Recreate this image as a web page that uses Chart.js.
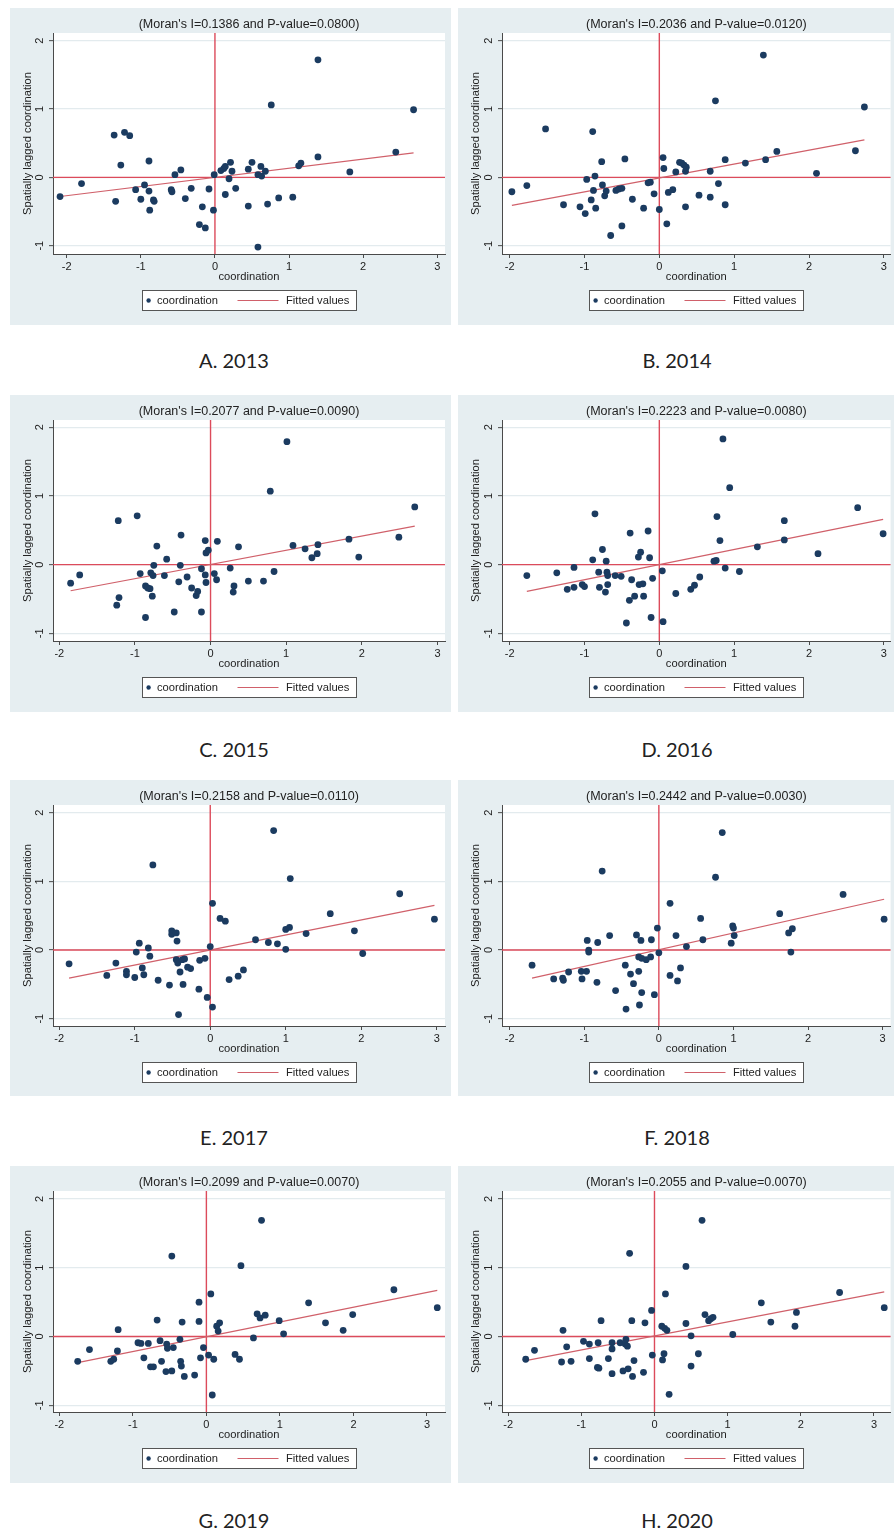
<!DOCTYPE html>
<html>
<head>
<meta charset="utf-8">
<script src="https://cdn.jsdelivr.net/npm/chart.js@4"></script>
<style>
  html, body { margin: 0; padding: 0; background: #ffffff; }
  body { position: relative; width: 894px; height: 1530px; overflow: hidden; }
  canvas.panel { position: absolute; background: #e6eef1; }
  .caption { position: absolute; width: 200px; height: 26px; line-height: 26px; text-align: center;
             font-family: Lato, "Open Sans", sans-serif; font-size: 20px; color: #222; }
</style>
</head>
<body>
<script>
// Moran scatterplots of provincial coordination, 2013-2020
const years = ['2013', '2014', '2015', '2016', '2017', '2018', '2019', '2020'];
const letters = ['A', 'B', 'C', 'D', 'E', 'F', 'G', 'H'];
const moranI = ['0.1386', '0.2036', '0.2077', '0.2223', '0.2158', '0.2442', '0.2099', '0.2055'];
const pValues = ['0.0800', '0.0120', '0.0090', '0.0080', '0.0110', '0.0030', '0.0070', '0.0070'];

const xTicks = [-2, -1, 0, 1, 2, 3];
const yTicks = [-1, 0, 1, 2];

// coordination (x) and spatially lagged coordination (y)
const coord2013 = [-2.09,-1.80,-1.36,-1.22,-1.15,-1.27,-1.34,-1.07,-0.95,-1.00,-0.89,-0.89,-0.88,-0.83,-0.82,-0.59,-0.58,-0.54,-0.46,-0.40,-0.32,-0.21,-0.13,-0.17,-0.08,-0.02,-0.01,0.08,0.12,0.14,0.21,0.19,0.23,0.14,0.28,0.45,0.50,0.45,0.58,0.62,0.63,0.68,0.58,0.71,0.76,0.86,1.05,1.13,1.16,1.39,1.39,1.82,2.44,2.68];
const lag2013   = [-0.28,-0.09,0.62,0.66,0.61,0.18,-0.35,-0.18,-0.11,-0.32,0.24,-0.20,-0.48,-0.33,-0.35,-0.18,-0.21,0.04,0.11,-0.31,-0.16,-0.69,-0.74,-0.43,-0.17,-0.48,0.04,0.10,0.13,0.16,0.22,-0.02,0.09,-0.25,-0.16,0.12,0.22,-0.42,0.04,0.16,0.02,0.09,-1.02,-0.39,1.06,-0.30,-0.29,0.17,0.21,1.72,0.30,0.08,0.37,0.99];

const coord2014 = [-1.97,-1.77,-1.52,-1.28,-1.06,-0.99,-0.97,-0.89,-0.86,-0.91,-0.88,-0.85,-0.77,-0.76,-0.73,-0.71,-0.65,-0.58,-0.54,-0.50,-0.50,-0.46,-0.36,-0.21,-0.15,-0.12,-0.07,0.00,0.05,0.06,0.10,0.12,0.18,0.22,0.27,0.30,0.33,0.35,0.36,0.35,0.53,0.68,0.68,0.75,0.79,0.88,0.88,1.15,1.39,1.42,1.57,2.10,2.62,2.74];
const lag2014   = [-0.21,-0.12,0.71,-0.40,-0.43,-0.53,-0.03,0.67,0.02,-0.33,-0.19,-0.45,0.23,-0.11,-0.27,-0.20,-0.85,-0.19,-0.17,-0.16,-0.71,0.27,-0.32,-0.45,-0.08,-0.07,-0.24,-0.47,0.29,0.13,-0.68,-0.22,-0.18,0.08,0.22,0.21,0.18,0.09,0.15,-0.43,-0.26,0.09,-0.29,1.12,-0.09,0.26,-0.40,0.21,1.79,0.26,0.38,0.06,0.39,1.03];

const coord2015 = [-1.85,-1.73,-1.24,-1.21,-1.22,-0.97,-0.93,-0.86,-0.86,-0.83,-0.80,-0.79,-0.77,-0.76,-0.75,-0.71,-0.61,-0.58,-0.48,-0.42,-0.40,-0.39,-0.31,-0.25,-0.19,-0.17,-0.12,-0.12,-0.07,-0.06,-0.07,-0.06,-0.03,0.05,0.08,0.09,0.26,0.31,0.30,0.37,0.50,0.70,0.79,0.84,1.01,1.09,1.25,1.34,1.42,1.41,1.83,1.96,2.49,2.70];
const lag2015   = [-0.27,-0.15,-0.59,-0.48,0.64,0.71,-0.13,-0.77,-0.31,-0.34,-0.35,-0.12,-0.46,-0.16,-0.01,0.27,-0.16,0.08,-0.69,-0.25,-0.01,0.43,-0.18,-0.34,-0.45,-0.39,-0.69,-0.06,-0.15,-0.26,0.35,0.17,0.21,-0.13,-0.22,0.34,-0.05,-0.31,-0.40,0.26,-0.24,-0.24,1.07,-0.10,1.79,0.28,0.23,0.10,0.29,0.16,0.37,0.11,0.40,0.84];

const coord2016 = [-1.77,-1.37,-1.23,-1.14,-1.14,-1.03,-1.00,-0.89,-0.86,-0.81,-0.80,-0.76,-0.72,-0.71,-0.70,-0.69,-0.69,-0.59,-0.51,-0.44,-0.39,-0.40,-0.37,-0.33,-0.28,-0.25,-0.27,-0.22,-0.21,-0.15,-0.13,-0.11,-0.09,0.04,0.05,0.22,0.42,0.47,0.54,0.73,0.76,0.77,0.81,0.85,0.88,0.94,1.07,1.31,1.67,1.67,2.12,2.65,2.99];
const lag2016   = [-0.16,-0.12,-0.36,-0.04,-0.33,-0.29,-0.32,0.07,0.74,-0.11,-0.33,0.22,-0.40,0.05,-0.11,-0.16,-0.29,-0.16,-0.17,-0.85,0.46,-0.52,-0.22,-0.46,0.11,0.18,-0.29,-0.28,-0.46,0.49,0.10,-0.77,-0.20,-0.09,-0.83,-0.42,-0.36,-0.30,-0.18,0.05,0.06,0.70,0.35,1.83,-0.05,1.12,-0.10,0.26,0.64,0.36,0.16,0.83,0.45];

const coord2017 = [-1.87,-1.37,-1.25,-1.11,-1.11,-1.00,-0.98,-0.94,-0.90,-0.88,-0.82,-0.80,-0.76,-0.69,-0.54,-0.51,-0.51,-0.45,-0.44,-0.45,-0.43,-0.42,-0.40,-0.37,-0.36,-0.34,-0.30,-0.26,-0.15,-0.14,-0.07,-0.04,0.00,0.03,0.03,0.13,0.20,0.25,0.37,0.44,0.60,0.77,0.84,0.89,1.00,1.00,1.05,1.06,1.27,1.59,1.91,2.02,2.51,2.97];
const lag2017   = [-0.20,-0.37,-0.19,-0.31,-0.36,-0.40,-0.03,0.10,-0.26,-0.36,0.03,-0.09,1.24,-0.44,-0.51,0.28,0.23,0.25,0.13,-0.14,-0.19,-0.94,-0.32,-0.14,-0.50,-0.13,-0.25,-0.27,-0.57,-0.15,-0.12,-0.69,0.05,-0.83,0.68,0.46,0.42,-0.43,-0.38,-0.29,0.15,0.11,1.74,0.09,0.01,0.30,0.33,1.04,0.24,0.53,0.28,-0.05,0.82,0.45];

const coord2018 = [-1.70,-1.41,-1.29,-1.28,-1.21,-1.04,-1.03,-0.97,-0.96,-0.94,-0.94,-0.83,-0.82,-0.76,-0.66,-0.58,-0.45,-0.44,-0.38,-0.34,-0.30,-0.27,-0.27,-0.24,-0.26,-0.23,-0.23,-0.17,-0.11,-0.10,-0.06,-0.02,0.00,0.15,0.15,0.23,0.25,0.29,0.37,0.56,0.59,0.76,0.85,0.97,0.99,1.00,1.01,1.62,1.74,1.79,1.77,2.47,3.02];
const lag2018   = [-0.22,-0.42,-0.41,-0.44,-0.32,-0.31,-0.42,-0.31,0.14,0.00,-0.03,-0.47,0.11,1.15,0.21,-0.59,-0.22,-0.86,-0.35,-0.49,0.22,-0.10,-0.31,0.14,-0.80,-0.12,-0.62,-0.14,-0.10,0.15,-0.65,0.32,-0.04,0.68,-0.37,0.21,-0.45,-0.26,0.05,0.46,0.15,1.06,1.71,0.10,0.35,0.32,0.21,0.53,0.25,0.31,-0.03,0.81,0.45];

const coord2019 = [-1.75,-1.59,-1.30,-1.26,-1.21,-1.20,-0.93,-0.89,-0.85,-0.79,-0.76,-0.72,-0.67,-0.63,-0.61,-0.55,-0.54,-0.53,-0.47,-0.47,-0.45,-0.36,-0.35,-0.34,-0.33,-0.30,-0.16,-0.10,-0.10,-0.08,-0.04,0.03,0.06,0.08,0.10,0.14,0.16,0.18,0.39,0.45,0.47,0.64,0.69,0.73,0.75,0.80,0.99,1.05,1.39,1.62,1.86,1.99,2.55,3.14];
const lag2019   = [-0.36,-0.19,-0.36,-0.33,-0.21,0.10,-0.09,-0.10,-0.31,-0.10,-0.44,-0.44,0.24,-0.06,-0.36,-0.51,-0.11,-0.17,1.17,-0.50,-0.16,-0.04,-0.36,-0.43,0.21,-0.58,-0.56,0.22,0.50,-0.31,-0.16,-0.27,0.62,-0.85,-0.33,0.15,0.08,0.20,-0.26,-0.33,1.03,-0.02,0.33,0.27,1.69,0.31,0.23,0.04,0.49,0.20,0.09,0.32,0.68,0.42];

const coord2020 = [-1.76,-1.64,-1.27,-1.25,-1.20,-1.14,-0.97,-0.89,-0.89,-0.78,-0.76,-0.77,-0.73,-0.63,-0.58,-0.58,-0.58,-0.47,-0.43,-0.40,-0.39,-0.37,-0.36,-0.34,-0.31,-0.30,-0.28,-0.15,-0.13,-0.04,-0.03,0.10,0.13,0.11,0.14,0.15,0.17,0.20,0.43,0.43,0.50,0.50,0.60,0.65,0.69,0.74,0.77,0.80,1.07,1.46,1.59,1.92,1.94,2.53,3.14];
const lag2020   = [-0.33,-0.20,-0.37,0.09,-0.15,-0.36,-0.07,-0.11,-0.32,-0.45,-0.46,-0.09,0.23,-0.32,-0.09,-0.18,-0.54,-0.09,-0.50,-0.11,-0.04,-0.14,-0.47,1.21,0.23,-0.58,-0.35,-0.52,0.20,0.38,-0.27,0.15,-0.25,-0.34,0.12,0.62,0.09,-0.84,1.02,0.19,0.01,-0.43,-0.25,1.69,0.32,0.23,0.26,0.28,0.03,0.49,0.21,0.15,0.35,0.64,0.42];

// fitted regression line end points (x, y)
const fitX2013 = [-2.09, 2.68]; const fitY2013 = [-0.28, 0.36];
const fitX2014 = [-1.97, 2.74]; const fitY2014 = [-0.41, 0.55];
const fitX2015 = [-1.85, 2.70]; const fitY2015 = [-0.38, 0.56];
const fitX2016 = [-1.77, 2.99]; const fitY2016 = [-0.39, 0.66];
const fitX2017 = [-1.87, 2.97]; const fitY2017 = [-0.41, 0.65];
const fitX2018 = [-1.70, 3.02]; const fitY2018 = [-0.41, 0.74];
const fitX2019 = [-1.75, 3.14]; const fitY2019 = [-0.38, 0.67];
const fitX2020 = [-1.76, 3.14]; const fitY2020 = [-0.35, 0.65];

const coordSeries = [coord2013, coord2014, coord2015, coord2016, coord2017, coord2018, coord2019, coord2020];
const lagSeries   = [lag2013, lag2014, lag2015, lag2016, lag2017, lag2018, lag2019, lag2020];
const fitXSeries  = [fitX2013, fitX2014, fitX2015, fitX2016, fitX2017, fitX2018, fitX2019, fitX2020];
const fitYSeries  = [fitY2013, fitY2014, fitY2015, fitY2016, fitY2017, fitY2018, fitY2019, fitY2020];

// page layout of the eight panels
const layout = [
  { left: 10,  top: 8,    width: 441, height: 317, xMin: -2.185, xMax: 3.104, yMin: -1.121, yMax: 2.113, capX: 234, capY: 360 },
  { left: 458, top: 8,    width: 436, height: 317, xMin: -2.102, xMax: 3.090, yMin: -1.121, yMax: 2.113, capX: 677, capY: 360 },
  { left: 10,  top: 395,  width: 441, height: 317, xMin: -2.083, xMax: 3.100, yMin: -1.112, yMax: 2.106, capX: 234, capY: 749 },
  { left: 458, top: 395,  width: 436, height: 317, xMin: -2.102, xMax: 3.090, yMin: -1.112, yMax: 2.106, capX: 677, capY: 749 },
  { left: 10,  top: 780,  width: 441, height: 316, xMin: -2.083, xMax: 3.110, yMin: -1.106, yMax: 2.112, capX: 234, capY: 1137 },
  { left: 458, top: 780,  width: 436, height: 316, xMin: -2.103, xMax: 3.107, yMin: -1.106, yMax: 2.112, capX: 677, capY: 1137 },
  { left: 10,  top: 1166, width: 441, height: 317, xMin: -2.086, xMax: 3.245, yMin: -1.097, yMax: 2.116, capX: 234, capY: 1520 },
  { left: 458, top: 1166, width: 436, height: 317, xMin: -2.084, xMax: 3.227, yMin: -1.097, yMax: 2.116, capX: 677, capY: 1520 }
];

const FONT = '"Liberation Sans", Arial, sans-serif';
const DOT = '#1b3b60';
const RED = '#dc4b5b';
const FIT = '#d0606a';
const AXIS = '#4a4a4a';
const TEXT = '#222222';

Chart.defaults.font.family = FONT;
Chart.defaults.color = TEXT;

// white plot region
const plotRegion = {
  id: 'plotRegion',
  beforeDraw(chart) {
    const { ctx, chartArea: a } = chart;
    ctx.save();
    ctx.fillStyle = '#ffffff';
    ctx.fillRect(a.left, a.top, a.right - a.left, a.bottom - a.top);
    ctx.restore();
  }
};

// red reference lines through x = 0 and y = 0
const zeroLines = {
  id: 'zeroLines',
  beforeDatasetsDraw(chart) {
    const { ctx, chartArea: a, scales } = chart;
    const px = scales.x.getPixelForValue(0);
    const py = scales.y.getPixelForValue(0);
    ctx.save();
    ctx.strokeStyle = RED;
    ctx.lineWidth = 1.4;
    ctx.beginPath();
    ctx.moveTo(px, a.top); ctx.lineTo(px, a.bottom);
    ctx.moveTo(a.left, py); ctx.lineTo(a.right, py);
    ctx.stroke();
    ctx.restore();
  }
};

// boxed legend below the x-axis title
const boxLegend = {
  id: 'boxLegend',
  afterDraw(chart) {
    const { ctx, chartArea: a } = chart;
    const ds = chart.data.datasets;
    const w = 215, h = 21;
    const x0 = Math.round((a.left + a.right) / 2 - w / 2);
    const y0 = Math.round(a.bottom + 36);
    const my = y0 + h / 2;
    ctx.save();
    ctx.fillStyle = '#ffffff';
    ctx.fillRect(x0, y0, w, h);
    ctx.strokeStyle = '#555555';
    ctx.lineWidth = 1;
    ctx.strokeRect(x0 + 0.5, y0 + 0.5, w - 1, h - 1);
    ctx.fillStyle = ds[0].backgroundColor;
    ctx.beginPath();
    ctx.arc(x0 + 6.6, my, 2.2, 0, Math.PI * 2);
    ctx.fill();
    ctx.strokeStyle = ds[1].borderColor;
    ctx.lineWidth = 1.2;
    ctx.beginPath();
    ctx.moveTo(x0 + 95.5, my); ctx.lineTo(x0 + 136.5, my);
    ctx.stroke();
    ctx.fillStyle = TEXT;
    ctx.font = '11.2px ' + FONT;
    ctx.textBaseline = 'middle';
    ctx.textAlign = 'left';
    ctx.fillText(ds[0].label, x0 + 15, my + 0.5);
    ctx.fillText(ds[1].label, x0 + 144, my + 0.5);
    ctx.restore();
  }
};

years.forEach((year, i) => {
  const L = layout[i];
  const leftCol = L.left < 100;
  const yAxisWidth = leftCol ? 43 : 44;
  const padRight = leftCol ? 6 : 1;
  const chartTop = 25, chartHeight = 221, xAxisHeight = 31;
  const padBottom = L.height - chartTop - chartHeight - xAxisHeight;

  const canvas = document.createElement('canvas');
  canvas.className = 'panel';
  canvas.width = L.width;
  canvas.height = L.height;
  canvas.style.left = L.left + 'px';
  canvas.style.top = L.top + 'px';
  document.body.appendChild(canvas);

  const cap = document.createElement('div');
  cap.className = 'caption';
  cap.textContent = letters[i] + '. ' + year;
  cap.style.left = (L.capX - 100) + 'px';
  cap.style.top = (L.capY - 13) + 'px';
  document.body.appendChild(cap);

  const xs = coordSeries[i], ys = lagSeries[i];
  const points = xs.map((x, k) => ({ x: x, y: ys[k] }));
  const fitted = fitXSeries[i].map((x, k) => ({ x: x, y: fitYSeries[i][k] }));

  new Chart(canvas, {
    type: 'scatter',
    data: {
      datasets: [
        { label: 'coordination', data: points, backgroundColor: DOT, borderColor: DOT,
          borderWidth: 0, pointRadius: 3.4, pointHoverRadius: 3.4, order: 0 },
        { type: 'line', label: 'Fitted values', data: fitted, borderColor: FIT, backgroundColor: FIT,
          borderWidth: 1.2, pointRadius: 0, fill: false, tension: 0, order: 1 }
      ]
    },
    options: {
      responsive: false,
      animation: false,
      devicePixelRatio: 1,
      events: [],
      layout: { padding: { left: 0, top: 0, right: padRight, bottom: padBottom } },
      scales: {
        x: {
          type: 'linear', position: 'bottom', min: L.xMin, max: L.xMax,
          afterBuildTicks: s => { s.ticks = xTicks.map(v => ({ value: v })); },
          afterFit: s => { s.height = xAxisHeight; },
          grid: { display: true, drawOnChartArea: false, drawTicks: true, tickLength: 4, tickColor: AXIS, tickWidth: 1 },
          border: { display: true, color: AXIS, width: 1 },
          ticks: { font: { size: 11 }, color: TEXT, padding: 2, maxRotation: 0, autoSkip: false },
          title: { display: true, text: 'coordination', font: { size: 11.2 }, color: TEXT, padding: { top: 0, bottom: 1 } }
        },
        y: {
          type: 'linear', position: 'left', min: L.yMin, max: L.yMax,
          afterBuildTicks: s => { s.ticks = yTicks.map(v => ({ value: v })); },
          afterFit: s => { s.width = yAxisWidth; },
          grid: { display: true, drawOnChartArea: true, color: '#e3ebee', lineWidth: 1.3,
                  drawTicks: true, tickLength: 4, tickColor: AXIS, tickWidth: 1 },
          border: { display: true, color: AXIS, width: 1 },
          ticks: { font: { size: 11 }, color: TEXT, padding: 4, minRotation: 90, maxRotation: 90,
                   crossAlign: 'center', autoSkip: false },
          title: { display: true, text: 'Spatially lagged coordination', font: { size: 11.2 }, color: TEXT,
                   padding: { top: 11.3, bottom: 0 } }
        }
      },
      plugins: {
        legend: { display: false },
        tooltip: { enabled: false },
        title: {
          display: true, fullSize: false, position: 'top',
          text: "(Moran's I=" + moranI[i] + ' and P-value=' + pValues[i] + ')',
          font: { size: 12.5, weight: 'normal' }, color: TEXT,
          padding: { top: 9, bottom: 1 }
        }
      }
    },
    plugins: [plotRegion, zeroLines, boxLegend]
  });
});
</script>
</body>
</html>
